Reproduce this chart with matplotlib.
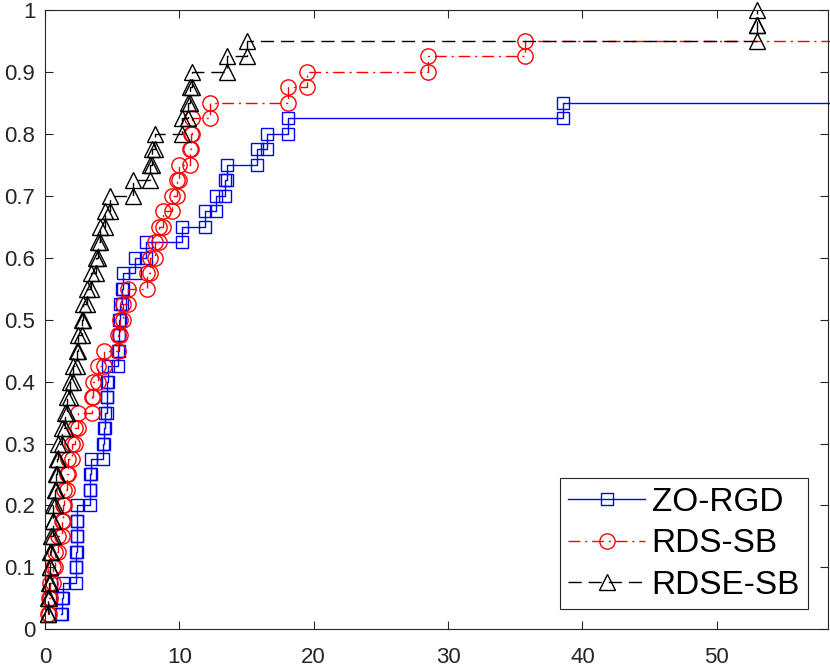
import numpy as np
import matplotlib
matplotlib.use('Agg')
import matplotlib.pyplot as plt

plt.rcParams['font.family'] = ['Liberation Sans', 'DejaVu Sans']

n_problems = 40

# sorted performance ratios; missing entries are failures
zo_rgd = [1.19, 1.27, 1.37, 2.31, 2.33, 2.36, 2.38, 2.39, 3.35, 3.36, 3.39,
          4.32, 4.39, 4.47, 4.59, 4.65, 4.69, 5.46, 5.51, 5.52, 5.55, 5.71,
          5.83, 6.70, 7.52, 10.18, 11.91, 12.73, 13.40, 13.53, 15.79, 16.51,
          18.07, 38.55]
rds_sb = [0.25, 0.30, 0.37, 0.60, 0.74, 0.97, 1.24, 1.34, 1.42, 1.62, 1.74,
          1.99, 2.23, 2.48, 3.48, 3.60, 3.97, 4.39, 5.46, 5.58, 5.81, 6.20,
          7.60, 7.82, 8.19, 8.49, 8.79, 9.46, 9.83, 9.98, 10.80, 10.87, 10.91,
          12.29, 18.07, 19.49, 28.54, 35.74]
rdse_sb = [0.22, 0.25, 0.30, 0.34, 0.37, 0.45, 0.56, 0.63, 0.74, 0.82, 0.87,
           0.99, 1.24, 1.49, 1.62, 1.86, 2.11, 2.36, 2.48, 2.73, 2.85, 3.10,
           3.43, 3.80, 3.97, 4.10, 4.47, 4.84, 6.55, 7.82, 7.97, 8.19, 10.18,
           10.65, 10.80, 10.95, 13.53, 15.02, 53.0, 53.0]

labels = ['ZO-RGD', 'RDS-SB', 'RDSE-SB']
colors = ['#0000ff', '#ff0000', '#000000']
markers = ['s', 'o', '^']
msizes = [8.0, 11.0, 11.5]
dashes = [None, (8.5, 3.5, 1.5, 3.5), (9.5, 5.0)]

xticks = [0, 10, 20, 30, 40, 50]
yticks = [0, 0.1, 0.2, 0.3, 0.4, 0.5, 0.6, 0.7, 0.8, 0.9, 1.0]
ytick_labels = ['0', '0.1', '0.2', '0.3', '0.4', '0.5', '0.6', '0.7', '0.8', '0.9', '1']

series = [zo_rgd, rds_sb, rdse_sb]
max_ratio = max(max(s) for s in series)

fig = plt.figure(figsize=(8.3, 6.67), dpi=100)
ax = fig.add_axes([45 / 830, 1 - 629.3 / 667, (828.3 - 45) / 830, (629.3 - 10) / 667])

prob = np.arange(1, n_problems + 1) / n_problems
handles = []
for s, lab, c, m, ms, d in zip(series, labels, colors, markers, msizes, dashes):
    r = np.full(n_problems, 2 * max_ratio)
    r[:len(s)] = s
    r = np.sort(r)
    xs = np.repeat(r, 2)[1:]
    ys = np.repeat(prob, 2)[:-1]
    kw = dict(color=c, lw=1.0, marker=m, ms=ms, mfc='none', mec=c, mew=1.0,
              clip_on=False)
    if d is None:
        ln, = ax.plot(xs, ys, '-', **kw)
    else:
        ln, = ax.plot(xs, ys, **kw)
        ln.set_dashes(d)
    handles.append(ln)

ax.set_xlim(0, 1.1 * max_ratio)
ax.set_ylim(0, 1)
ax.set_xticks(xticks)
ax.set_xticklabels([str(t) for t in xticks])
ax.set_yticks(yticks)
ax.set_yticklabels(ytick_labels)

for sp in ax.spines.values():
    sp.set_color('#262626')
    sp.set_linewidth(0.8)
ax.tick_params(axis='both', which='major', direction='in', length=5.8, width=0.8,
               color='#262626', labelsize=16, labelcolor='#262626',
               top=True, right=True)
ax.tick_params(axis='x', pad=13)
ax.tick_params(axis='y', pad=7)

leg = ax.legend(handles, labels, loc='lower right', fontsize=24, numpoints=1,
                handlelength=2.3, handletextpad=0.2, labelspacing=0.32,
                borderpad=0.25, borderaxespad=0.6, fancybox=False,
                framealpha=1, edgecolor='#262626')
leg.get_frame().set_linewidth(0.8)

fig.savefig('out.png', dpi=100)
